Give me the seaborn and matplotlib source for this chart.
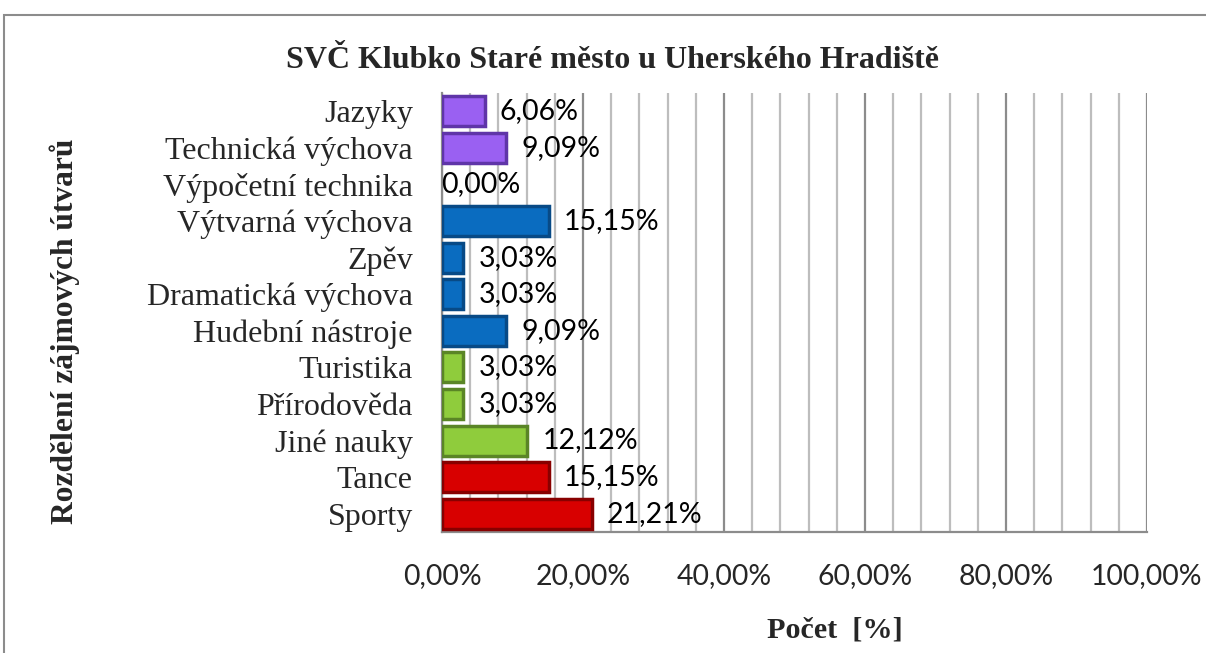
import matplotlib
matplotlib.use('Agg')
import matplotlib.pyplot as plt
import seaborn as sns
import pandas as pd
from matplotlib.ticker import MultipleLocator, FuncFormatter
from matplotlib.patches import Rectangle

sns.set_theme(style="white")
plt.rcParams['font.family'] = ['Liberation Serif', 'DejaVu Serif']

# data, top to bottom as shown
categories = ['Jazyky', 'Technická výchova', 'Výpočetní technika', 'Výtvarná výchova',
              'Zpěv', 'Dramatická výchova', 'Hudební nástroje', 'Turistika',
              'Přírodověda', 'Jiné nauky', 'Tance', 'Sporty']
values = [6.06, 9.09, 0.00, 15.15, 3.03, 3.03, 9.09, 3.03, 3.03, 12.12, 15.15, 21.21]
groups = ['lang', 'lang', 'lang', 'art', 'art', 'art', 'art', 'nat', 'nat', 'nat', 'sport', 'sport']
group_colors = {'lang': '#9a60f2', 'art': '#0a6cc0', 'nat': '#8fcc3c', 'sport': '#d80000'}
group_edges = {'lang': '#5f35a8', 'art': '#084a86', 'nat': '#5a8526', 'sport': '#880000'}

df = pd.DataFrame({'kategorie': categories, 'pocet': values, 'skupina': groups})

fig = plt.figure(figsize=(12.06, 6.53), dpi=100)
ax = fig.add_axes([0.3665, 0.1853, 0.5845, 0.6723])

sns.barplot(data=df, x='pocet', y='kategorie', order=categories, color='#0a6cc0',
            width=0.82, ax=ax, zorder=3)

# bar colours by group, thick darker edge for the bevel look
for patch, g, v in zip(ax.containers[0], groups, values):
    patch.set_facecolor(group_colors[g])
    patch.set_edgecolor(group_edges[g])
    patch.set_linewidth(2.5 if v > 0 else 0)

labels = [f'{v:.2f}%'.replace('.', ',') for v in values]
texts = ax.bar_label(ax.containers[0], labels=labels, padding=11, fontsize=20.5,
                     family=['Lato', 'DejaVu Sans'], color='black')
for t, v in zip(texts, values):
    if v == 0:
        t.set_x(-0.5)

ax.set_xlim(0, 100)
ax.xaxis.set_major_locator(MultipleLocator(20))
ax.xaxis.set_minor_locator(MultipleLocator(4))
ax.xaxis.set_major_formatter(FuncFormatter(lambda x, p: f'{x:.2f}%'.replace('.', ',')))
ax.grid(True, axis='x', which='major', color='#8c8c8c', linewidth=1.6, zorder=0)
ax.grid(True, axis='x', which='minor', color='#bdbdbd', linewidth=1.6, zorder=0)
ax.set_axisbelow(True)
ax.tick_params(axis='both', which='both', length=0)
ax.tick_params(axis='x', pad=22)
ax.tick_params(axis='y', pad=21)
for t in ax.get_xticklabels():
    t.set_family(['Lato', 'DejaVu Sans'])
    t.set_fontsize(20.4)
for t in ax.get_yticklabels():
    t.set_fontsize(23)

for s in ['top', 'right']:
    ax.spines[s].set_visible(False)
ax.spines['left'].set_color('#8c8c8c')
ax.spines['bottom'].set_color('#8c8c8c')
ax.spines['left'].set_linewidth(1.6)
ax.spines['bottom'].set_linewidth(1.6)

ax.set_xlabel('')
ax.set_ylabel('')

fig.text(0.508, 0.908, 'SVČ Klubko Staré město u Uherského Hradiště',
         ha='center', va='center', fontsize=23, fontweight='bold')
fig.text(0.6925, 0.035, 'Počet  [%]', ha='center', va='center',
         fontsize=21.7, fontweight='bold')
fig.text(0.054, 0.493, 'Rozdělení zájmových útvarů', ha='center', va='center',
         rotation=90, fontsize=22.7, fontweight='bold')

fig.patches.append(Rectangle((4 / 1206, -0.1), 1.1, 1 - 15 / 653 + 0.1,
                             transform=fig.transFigure, fill=False,
                             edgecolor='#8c8c8c', linewidth=1.5))

fig.savefig('out.png', dpi=100)
